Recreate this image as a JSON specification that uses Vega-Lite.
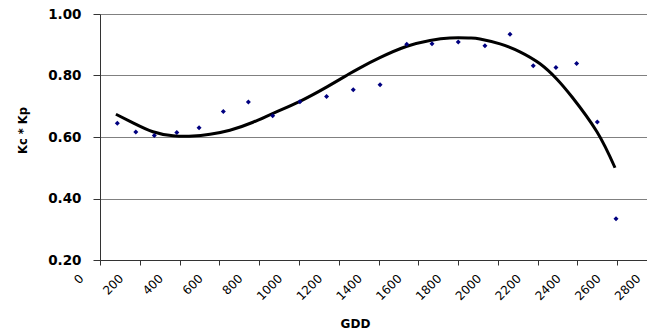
{
  "$schema": "https://vega.github.io/schema/vega-lite/v6.json",
  "width": 557,
  "height": 246,
  "autosize": {"type": "none"},
  "padding": {"left": 100, "top": 14, "right": -10, "bottom": 73},
  "config": {"view": {"stroke": null}, "font": "DejaVu Sans"},
  "datasets": {
    "points": [
      {"GDD": 87, "Kc": 0.645},
      {"GDD": 180, "Kc": 0.616},
      {"GDD": 273, "Kc": 0.605},
      {"GDD": 386, "Kc": 0.615},
      {"GDD": 498, "Kc": 0.630},
      {"GDD": 620, "Kc": 0.683},
      {"GDD": 746, "Kc": 0.714},
      {"GDD": 868, "Kc": 0.669},
      {"GDD": 1005, "Kc": 0.715},
      {"GDD": 1139, "Kc": 0.732},
      {"GDD": 1273, "Kc": 0.754},
      {"GDD": 1408, "Kc": 0.770},
      {"GDD": 1542, "Kc": 0.902},
      {"GDD": 1669, "Kc": 0.903},
      {"GDD": 1801, "Kc": 0.909},
      {"GDD": 1935, "Kc": 0.897},
      {"GDD": 2061, "Kc": 0.934},
      {"GDD": 2178, "Kc": 0.832},
      {"GDD": 2292, "Kc": 0.826},
      {"GDD": 2396, "Kc": 0.839},
      {"GDD": 2500, "Kc": 0.649},
      {"GDD": 2594, "Kc": 0.334}
    ],
    "curve": [
      {"GDD": 80, "Kc": 0.674},
      {"GDD": 166, "Kc": 0.646},
      {"GDD": 266, "Kc": 0.617},
      {"GDD": 367, "Kc": 0.604},
      {"GDD": 467, "Kc": 0.603},
      {"GDD": 553, "Kc": 0.609},
      {"GDD": 653, "Kc": 0.622},
      {"GDD": 769, "Kc": 0.648},
      {"GDD": 870, "Kc": 0.677},
      {"GDD": 1005, "Kc": 0.716},
      {"GDD": 1141, "Kc": 0.763},
      {"GDD": 1247, "Kc": 0.803},
      {"GDD": 1307, "Kc": 0.825},
      {"GDD": 1407, "Kc": 0.858},
      {"GDD": 1543, "Kc": 0.895},
      {"GDD": 1659, "Kc": 0.914},
      {"GDD": 1759, "Kc": 0.922},
      {"GDD": 1860, "Kc": 0.922},
      {"GDD": 1910, "Kc": 0.919},
      {"GDD": 2011, "Kc": 0.903},
      {"GDD": 2111, "Kc": 0.877},
      {"GDD": 2212, "Kc": 0.838},
      {"GDD": 2297, "Kc": 0.788},
      {"GDD": 2373, "Kc": 0.730},
      {"GDD": 2498, "Kc": 0.617},
      {"GDD": 2589, "Kc": 0.500}
    ]
  },
  "layer": [
    {
      "data": {"name": "curve"},
      "mark": {"type": "line", "color": "black", "strokeWidth": 3, "interpolate": "natural"},
      "encoding": {
        "x": {
          "field": "GDD", "type": "quantitative",
          "scale": {"domain": [0, 2800], "nice": false, "zero": false},
          "axis": {
            "title": "GDD",
            "values": [0, 200, 400, 600, 800, 1000, 1200, 1400, 1600, 1800, 2000, 2200, 2400, 2600, 2800],
            "tickCount": 30,
            "format": "d",
            "grid": false,
            "labelAngle": -45,
            "labelAlign": "right",
            "labelBaseline": "middle",
            "labelOffset": -19,
            "labelPadding": 11,
            "labelFlush": false,
            "labelOverlap": false,
            "labelBound": false,
            "tickSize": 5,
            "tickColor": "#333333",
            "domainColor": "#333333",
            "labelFont": "DejaVu Sans",
            "labelFontSize": 12,
            "labelColor": "black",
            "titleFont": "DejaVu Sans",
            "titleFontWeight": "bold",
            "titleFontSize": 12,
            "titleColor": "black",
            "titleX": 255,
            "titleY": 63,
            "titleBaseline": "middle",
            "titleAlign": "center"
          }
        },
        "y": {
          "field": "Kc", "type": "quantitative",
          "scale": {"domain": [0.2, 1.0], "nice": false, "zero": false},
          "axis": {
            "title": "Kc * Kp",
            "values": [0.2, 0.4, 0.6, 0.8, 1.0],
            "tickCount": 10,
            "format": ".2f",
            "grid": true,
            "gridColor": "#808080",
            "gridOpacity": 1,
            "tickSize": 7,
            "tickColor": "#333333",
            "domainColor": "#333333",
            "labelPadding": 12,
            "labelFont": "DejaVu Sans",
            "labelFontWeight": "bold",
            "labelFontSize": 13.5,
            "labelColor": "black",
            "titleFont": "DejaVu Sans",
            "titleFontWeight": "bold",
            "titleFontSize": 11.5,
            "titleColor": "black",
            "titleAngle": -90,
            "titleX": -77,
            "titleY": 116,
            "titleAlign": "center",
            "titleBaseline": "middle"
          }
        }
      }
    },
    {
      "data": {"name": "points"},
      "mark": {"type": "point", "shape": "diamond", "filled": true, "color": "#000080", "size": 25, "opacity": 1},
      "encoding": {
        "x": {"field": "GDD", "type": "quantitative"},
        "y": {"field": "Kc", "type": "quantitative"}
      }
    }
  ]
}
